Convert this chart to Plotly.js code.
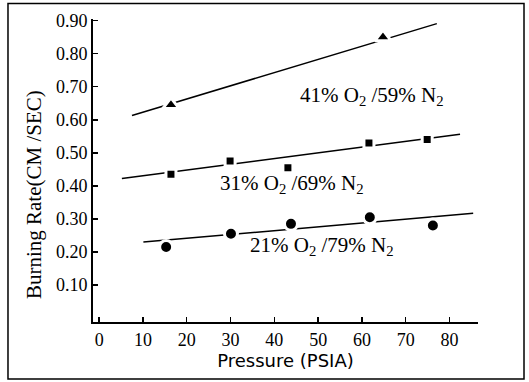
<!DOCTYPE html>
<html>
<head>
<meta charset="utf-8">
<script src="https://cdn.plot.ly/plotly-3.0.1.min.js"></script>
<style>html,body{margin:0;padding:0;background:#fff;}#chart{width:529px;height:382px;}</style>
</head>
<body>
<div id="chart"></div>
<script>
// Measured points (Pressure PSIA vs burning rate cm/sec)
const o21X = [15.3, 30.1, 43.8, 61.8, 76.2];
const o21Y = [0.215, 0.255, 0.285, 0.305, 0.28];
const o31X = [16.4, 29.9, 43.1, 61.6, 74.9];
const o31Y = [0.435, 0.475, 0.455, 0.53, 0.54];
const o41X = [16.4, 64.8];
const o41Y = [0.645, 0.85];
// Fitted lines (end points)
const fit21X = [10.1, 85.4];
const fit21Y = [0.230, 0.317];
const fit31X = [5.2, 82.4];
const fit31Y = [0.422, 0.556];
const fit41X = [7.5, 77.1];
const fit41Y = [0.613, 0.891];
// Labels
const seriesLabels = ['21% O<sub>2</sub> /79% N<sub>2</sub>', '31% O<sub>2</sub> /69% N<sub>2</sub>', '41% O<sub>2</sub> /59% N<sub>2</sub>'];
const labelX = [50.8, 44.0, 62.3];
const labelY = [0.218, 0.405, 0.672];
const xTicks = [0, 10, 20, 30, 40, 50, 60, 70, 80];
const yTicks = [0.1, 0.2, 0.3, 0.4, 0.5, 0.6, 0.7, 0.8, 0.9];
const xTitle = 'Pressure (PSIA)';
const yTitle = 'Burning Rate(CM /SEC)';

const lineStyle = {color: '#000', width: 1.5};
const markerEdge = {color: '#fff', width: 3};
const traces = [
  {x: fit21X, y: fit21Y, mode: 'lines', line: lineStyle, hoverinfo: 'skip'},
  {x: fit31X, y: fit31Y, mode: 'lines', line: lineStyle, hoverinfo: 'skip'},
  {x: fit41X, y: fit41Y, mode: 'lines', line: lineStyle, hoverinfo: 'skip'},
  {x: o21X, y: o21Y, mode: 'markers', marker: {symbol: 'circle', size: 13, color: '#000', line: markerEdge}},
  {x: o31X, y: o31Y, mode: 'markers', marker: {symbol: 'square', size: 10, color: '#000', line: markerEdge}},
  {x: o41X, y: o41Y, mode: 'markers', marker: {symbol: 'triangle-up', size: 14, color: '#000', line: markerEdge}}
];

const serif = 'Liberation Serif, Times New Roman, serif';
const annotations = seriesLabels.map((t, i) => ({
  x: labelX[i], y: labelY[i], xref: 'x', yref: 'y', text: t, showarrow: false,
  font: {family: serif, size: 21, color: '#000'}
}));
annotations.push({
  x: -0.155, y: 0.42, xref: 'paper', yref: 'paper', xanchor: 'center', yanchor: 'middle',
  text: yTitle, textangle: -90, showarrow: false,
  font: {family: serif, size: 21, color: '#000'}
});

const layout = {
  width: 529, height: 382,
  margin: {l: 93, r: 51, t: 19, b: 60, pad: 0},
  paper_bgcolor: '#fff', plot_bgcolor: '#fff',
  showlegend: false,
  font: {family: serif, color: '#000'},
  xaxis: {
    range: [-1.4, 86.5], tickvals: xTicks, ticktext: xTicks.map(String),
    showline: true, linecolor: '#000', linewidth: 2, ticks: 'inside', ticklen: 5, tickwidth: 1.5, tickcolor: '#000',
    showgrid: false, zeroline: false,
    tickfont: {family: serif, size: 18, color: '#000'},
    title: {text: xTitle, font: {family: 'DejaVu Sans, sans-serif', size: 18, color: '#000'}, standoff: 1}
  },
  yaxis: {
    range: [-0.012, 0.905], tickvals: yTicks, ticktext: yTicks.map(v => v.toFixed(2)),
    showline: true, linecolor: '#000', linewidth: 2, ticks: 'inside', ticklen: 5, tickwidth: 1.5, tickcolor: '#000',
    showgrid: false, zeroline: false,
    tickfont: {family: serif, size: 18, color: '#000'}
  },
  annotations: annotations,
  shapes: [{
    type: 'rect', xref: 'paper', yref: 'paper',
    x0: -0.2208, x1: 1.1195, y0: -0.1884, y1: 1.0512,
    line: {color: '#000', width: 1.5}, fillcolor: 'rgba(0,0,0,0)', layer: 'below'
  }]
};

Plotly.newPlot('chart', traces, layout, {displayModeBar: false, staticPlot: true});
</script>
</body>
</html>
